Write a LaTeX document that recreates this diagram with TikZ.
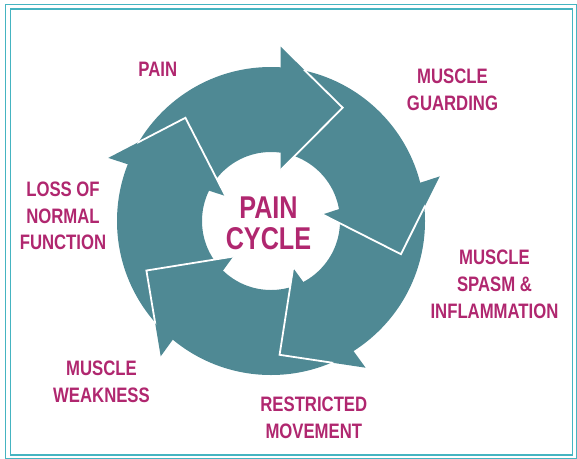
\documentclass[tikz,border=0pt]{standalone}
\usepackage{fontspec}
\newfontfamily\labfont[FakeStretch=0.8]{Liberation Sans}
\definecolor{ringc}{HTML}{4F8994}
\definecolor{labc}{HTML}{B0276F}
\definecolor{framec}{HTML}{45B4C1}
\begin{document}
\begin{tikzpicture}[x=1pt,y=1pt,
  lab/.style={font=\labfont\bfseries\fontsize{20.9}{26.7}\selectfont, text=labc, align=center, inner sep=0pt},
  ctr/.style={font=\labfont\bfseries\fontsize{31.5}{31.5}\selectfont, text=labc, align=center, inner sep=0pt},
  sep/.style={draw=white, line width=1.8pt, line join=miter},
  frameline/.style={draw=framec, line width=1.3pt}]
\useasboundingbox (0,0) rectangle (577,-458);
\begin{scope}
  \clip (0,0) rectangle (577,-458);
  \draw[frameline] (5.3,-4.3) rectangle (576.3,-458.5);
  \draw[frameline] (10.7,-9) rectangle (572.5,-455);
\end{scope}
\coordinate (c) at (271,-221);
\fill[ringc, even odd rule] (c) circle (154) (c) circle (69);
\foreach \k in {0,...,4} {
  \begin{scope}[shift={(c)}, rotate={-72*\k}]
    \fill[ringc] (9.7,174.3) coordinate (o\k) -- (71.7,113.3) coordinate (t\k) -- (9.7,51) coordinate (i\k) -- cycle;
  \end{scope}
}
\begin{scope}
  \clip (c) circle (154.5);
  \foreach \k in {0,...,4} {
    \draw[sep] (o\k) -- (t\k) -- (i\k);
  }
\end{scope}
\node[lab] (pain) at (157.8,-69.8) {PAIN};
\node[lab] (guard) at (452.5,-89.9) {MUSCLE\\GUARDING};
\node[lab] (spasm) at (494.5,-284.2) {MUSCLE\\SPASM \&\\INFLAMMATION};
\node[lab] (restr) at (313.8,-418) {RESTRICTED\\MOVEMENT};
\node[lab] (weak) at (101.5,-381.7) {MUSCLE\\WEAKNESS};
\node[lab] (loss) at (63,-215.8) {LOSS OF\\NORMAL\\FUNCTION};
\node[ctr] (cycle) at (268.5,-223.4) {PAIN\\CYCLE};
\end{tikzpicture}
\end{document}
